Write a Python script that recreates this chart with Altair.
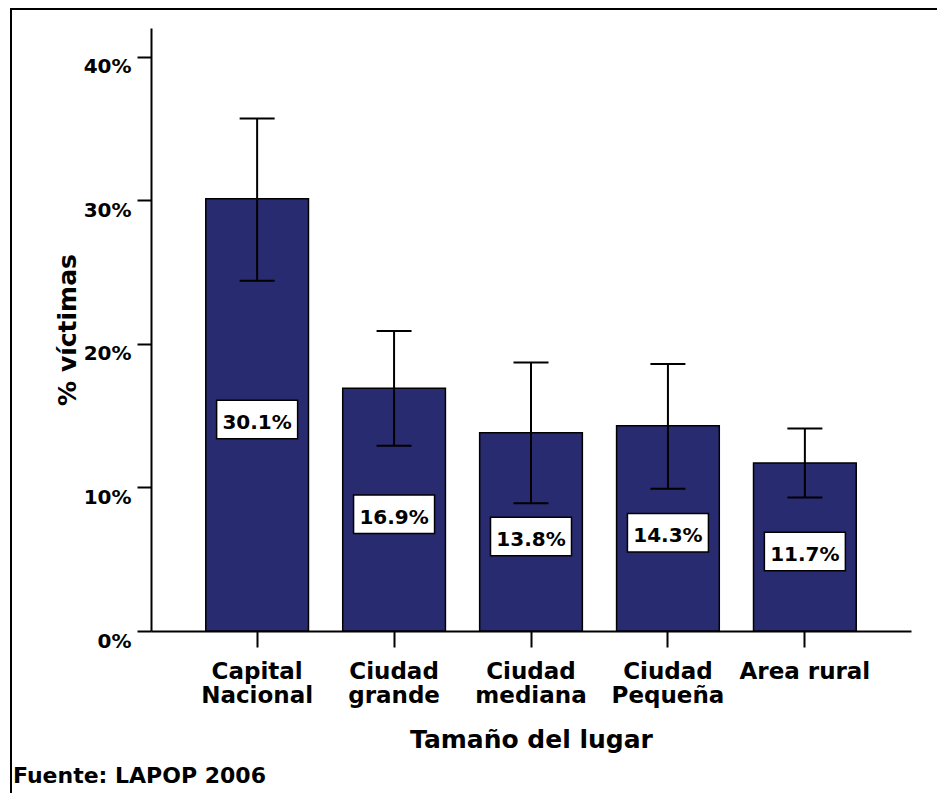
import altair as alt
import pandas as pd

categories = ["Capital Nacional", "Ciudad grande", "Ciudad mediana", "Ciudad Pequeña", "Area rural"]
values = [30.1, 16.9, 13.8, 14.3, 11.7]
ci_low = [24.4, 12.9, 8.9, 9.9, 9.3]
ci_high = [35.7, 20.9, 18.7, 18.6, 14.1]
labels = ["30.1%", "16.9%", "13.8%", "14.3%", "11.7%"]
y_ticks = [0, 10, 20, 30, 40]

FONT = "DejaVu Sans"
BAR = "#292B70"

df = pd.DataFrame({"cat": categories, "val": values, "lo": ci_low, "hi": ci_high, "lab": labels})
df["mid"] = df["val"] / 2

x = alt.X(
    "cat:N",
    sort=categories,
    scale=alt.Scale(paddingInner=0.25, paddingOuter=0.4),
    axis=alt.Axis(
        title="Tamaño del lugar",
        labelAngle=0,
        labelExpr="datum.label == 'Area rural' ? datum.label : split(datum.label, ' ')",
        tickSize=16,
        labelPadding=13,
        labelFontSize=23,
        labelLineHeight=24,
        labelOverlap=False,
        titleFontSize=25,
        titleX=380,
        titleY=116,
        titleBaseline="alphabetic",
        titleAlign="center",
    ),
)

y_axis = alt.Axis(
    values=y_ticks,
    labelExpr="datum.value + '%'",
    title="% víctimas",
    tickSize=14,
    labelPadding=6,
    labelBaseline="top",
    labelAlign="right",
    labelFontSize=20,
    grid=False,
    titleFontSize=25,
    titleX=-76,
    titleY=301.5,
    titleBaseline="alphabetic",
    titleAlign="center",
)
yscale = alt.Scale(domain=[0, 42], nice=False, zero=True)

base = alt.Chart(df)

bars = base.mark_bar(color=BAR, stroke="black", strokeWidth=1.5).encode(
    x=x, y=alt.Y("val:Q", scale=yscale, axis=y_axis)
)
err = base.mark_rule(color="black", strokeWidth=2).encode(
    x=x, y=alt.Y("lo:Q", scale=yscale), y2="hi:Q"
)
cap_hi = base.mark_tick(color="black", thickness=2, size=35, opacity=1).encode(
    x=x, y=alt.Y("hi:Q", scale=yscale)
)
cap_lo = base.mark_tick(color="black", thickness=2, size=35, opacity=1).encode(
    x=x, y=alt.Y("lo:Q", scale=yscale)
)
box = base.mark_point(
    shape="M-1,-0.475L1,-0.475L1,0.475L-1,0.475Z",
    size=6561,
    filled=True,
    fill="white",
    stroke="black",
    strokeWidth=1.5,
    opacity=1,
    yOffset=4.5,
).encode(x=x, y=alt.Y("mid:Q", scale=yscale))
txt = base.mark_text(
    font=FONT, fontSize=20, fontWeight="bold", color="black",
    baseline="alphabetic", align="center", yOffset=14,
).encode(x=x, y=alt.Y("mid:Q", scale=yscale), text="lab:N")

one = alt.Chart(pd.DataFrame({"a": [0]}))
frame_left = one.mark_rule(color="black", strokeWidth=2).encode(
    x=alt.value(-140), y=alt.value(-20), y2=alt.value(800)
)
frame_top = one.mark_rule(color="black", strokeWidth=2).encode(
    x=alt.value(-141), x2=alt.value(820), y=alt.value(-19)
)
source = one.mark_text(
    font=FONT, fontSize=22, fontWeight="bold", color="black",
    align="left", baseline="alphabetic",
).encode(x=alt.value(-138), y=alt.value(755), text=alt.value("Fuente: LAPOP 2006"))

chart = (
    alt.layer(bars, err, cap_hi, cap_lo, box, txt, frame_left, frame_top, source)
    .properties(
        width=760,
        height=603,
        autosize=alt.AutoSizeParams(type="none"),
        padding={"left": 143, "top": 20, "right": 26, "bottom": 162},
    )
    .configure_view(stroke=None)
    .configure_axis(
        labelFont=FONT,
        titleFont=FONT,
        labelFontWeight="bold",
        titleFontWeight="bold",
        labelColor="black",
        titleColor="black",
        domainColor="black",
        tickColor="black",
        domainWidth=2,
        tickWidth=2,
    )
)

chart.save("out.html", embed_options={"renderer": "svg", "actions": False})
